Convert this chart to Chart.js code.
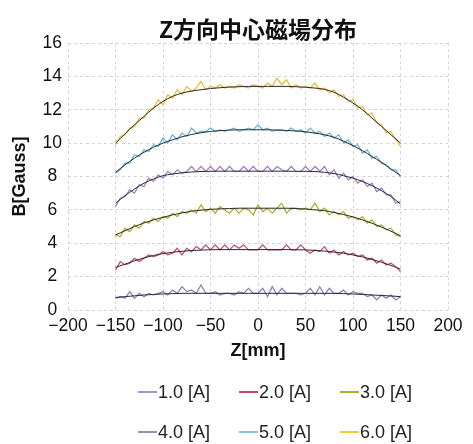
<!DOCTYPE html>
<html>
<head>
<meta charset="utf-8">
<script src="https://cdn.jsdelivr.net/npm/chart.js@4.4.1/dist/chart.umd.min.js"></script>
<style>
  body { margin: 0; background: #fff; overflow: hidden; }
  #wrap { position: relative; width: 473px; height: 444px; }
  #myChart { position: absolute; left: 0; top: 0; }
  #myLegend { position: absolute; left: 138px; top: 372px; width: 320px;
    font-family: "Liberation Sans", Arial, sans-serif; font-size: 18px; color: #222; }
  .row { display: flex; height: 40px; align-items: center; }
  .item { width: 101px; display: flex; align-items: center; }
  .swatch { width: 19px; height: 2px; margin-right: 1px; }
</style>
</head>
<body>
<div id="wrap">
  <canvas id="myChart" width="473" height="444"></canvas>
  <div id="myLegend"></div>
</div>
<script>
var seriesNames = ["1.0 [A]", "2.0 [A]", "3.0 [A]", "4.0 [A]", "5.0 [A]", "6.0 [A]"]
var lineColors = ["#8a7cc4", "#c8437c", "#aeae22", "#9d7cc8", "#62b2d8", "#f2b833"]
var legendColors = ["#a09cd0", "#c8437c", "#aeae22", "#9890b8", "#8cc4e0", "#f2cc40"]

// measured points every 5 mm
var zMeas = [-150, -145, -140, -135, -130, -125, -120, -115, -110, -105, -100, -95, -90, -85, -80, -75, -70, -65, -60, -55, -50, -45, -40, -35, -30, -25, -20, -15, -10, -5,
    0, 5, 10, 15, 20, 25, 30, 35, 40, 45, 50, 55, 60, 65, 70, 75, 80, 85, 90, 95, 100, 105, 110, 115, 120, 125, 130, 135, 140, 145, 150]

var b1 = [0.7, 0.8, 0.7, 1.1, 0.7, 1.0, 0.8, 1.0, 0.9, 1.0, 1.1, 0.9, 1.2, 1.0, 1.4, 1.1, 1.2, 1.0, 1.5, 1.0, 1.0, 1.1, 0.9, 1.0, 1.0, 0.9, 1.1, 1.0, 1.3, 1.0,
    1.0, 1.3, 0.8, 1.4, 0.9, 1.3, 1.0, 1.0, 1.0, 0.9, 1.0, 1.3, 0.9, 1.4, 0.9, 1.3, 1.0, 1.0, 1.2, 0.9, 1.1, 1.0, 1.0, 0.8, 0.9, 0.6, 0.9, 0.7, 0.9, 0.6, 0.8]
var b2 = [2.4, 2.9, 2.7, 2.8, 3.1, 2.9, 3.1, 3.3, 3.2, 3.3, 3.5, 3.3, 3.4, 3.7, 3.3, 3.7, 3.5, 3.8, 3.6, 3.9, 3.6, 3.9, 3.6, 3.9, 3.6, 3.9, 3.7, 3.9, 3.6, 3.6,
    3.6, 3.9, 3.6, 3.6, 3.6, 3.6, 3.9, 3.6, 3.6, 3.9, 3.6, 3.4, 3.6, 3.5, 3.8, 3.4, 3.6, 3.3, 3.5, 3.3, 3.4, 3.2, 3.3, 3.0, 3.1, 2.8, 3.0, 2.7, 2.8, 2.6, 2.3]
var b3 = [4.5, 4.4, 4.9, 4.7, 5.1, 4.9, 5.3, 5.2, 5.5, 5.3, 5.6, 5.5, 5.8, 5.6, 5.9, 5.8, 6.0, 5.8, 6.3, 5.9, 6.1, 5.8, 6.2, 6.0, 5.8, 6.1, 5.8, 6.1, 6.0, 5.7,
    6.3, 5.9, 6.1, 5.8, 6.1, 6.4, 5.8, 6.1, 6.1, 6.0, 6.1, 6.0, 6.4, 5.9, 6.1, 5.7, 5.9, 5.7, 5.9, 5.5, 5.6, 5.4, 5.6, 5.2, 5.4, 5.0, 5.1, 4.8, 4.9, 4.5, 4.4]
var b4 = [6.2, 6.7, 6.8, 7.2, 7.0, 7.5, 7.4, 7.9, 7.7, 8.1, 7.9, 8.3, 8.1, 8.4, 8.2, 8.3, 8.6, 8.3, 8.6, 8.3, 8.6, 8.3, 8.6, 8.3, 8.6, 8.3, 8.3, 8.6, 8.3, 8.6,
    8.3, 8.3, 8.6, 8.3, 8.6, 8.4, 8.3, 8.6, 8.3, 8.3, 8.6, 8.3, 8.6, 8.3, 8.6, 8.1, 8.4, 7.9, 8.2, 7.8, 8.0, 7.6, 7.8, 7.4, 7.6, 7.1, 7.3, 6.9, 6.9, 6.4, 6.5]
var b5 = [8.2, 8.4, 8.8, 8.8, 9.3, 9.2, 9.6, 9.5, 9.9, 9.8, 10.3, 10.0, 10.5, 10.2, 10.6, 10.4, 10.9, 10.6, 10.7, 10.7, 10.9, 10.7, 10.8, 10.7, 10.8, 10.9, 10.7, 10.8, 10.9, 10.8,
    11.1, 10.8, 10.9, 10.7, 10.8, 10.8, 10.7, 10.9, 10.7, 10.8, 10.6, 10.9, 10.6, 10.7, 10.4, 10.6, 10.3, 10.5, 10.0, 10.2, 9.8, 9.9, 9.4, 9.6, 9.1, 9.2, 8.8, 8.7, 8.4, 8.4, 8.0]
var b6 = [9.9, 10.4, 10.5, 10.9, 11.0, 11.5, 11.5, 12.0, 12.1, 12.6, 12.3, 12.9, 12.7, 13.2, 12.9, 13.4, 13.1, 13.3, 13.7, 13.2, 13.4, 13.3, 13.5, 13.3, 13.4, 13.3, 13.5, 13.4, 13.3, 13.5,
    13.4, 13.3, 13.6, 13.4, 13.9, 13.5, 13.8, 13.3, 13.5, 13.3, 13.4, 13.3, 13.6, 13.2, 13.3, 13.0, 13.2, 12.8, 12.9, 12.5, 12.6, 12.1, 12.2, 11.7, 11.8, 11.2, 11.1, 10.6, 10.7, 10.2, 9.8]

// fitted curves every 10 mm
var zFit = [-150, -140, -130, -120, -110, -100, -90, -80, -70, -60, -50, -40, -30, -20, -10,
    0, 10, 20, 30, 40, 50, 60, 70, 80, 90, 100, 110, 120, 130, 140, 150]
var fit1 = [0.75, 0.8, 0.85, 0.9, 0.93, 0.96, 0.98, 1.0, 1.0, 1.0, 1.0, 1.0, 1.0, 1.0, 1.0, 1.0, 1.0, 1.0, 1.0, 1.0, 1.0, 1.0, 1.0, 1.0, 0.98, 0.96, 0.93, 0.9, 0.87, 0.84, 0.8]
var fit2 = [2.55, 2.75, 2.95, 3.12, 3.27, 3.38, 3.46, 3.52, 3.56, 3.59, 3.61, 3.62, 3.62, 3.62, 3.62, 3.62, 3.62, 3.62, 3.62, 3.61, 3.6, 3.57, 3.53, 3.47, 3.4, 3.3, 3.18, 3.03, 2.86, 2.67, 2.45]
var fit3 = [4.5, 4.75, 5.0, 5.22, 5.4, 5.55, 5.7, 5.82, 5.92, 5.98, 6.03, 6.06, 6.08, 6.1, 6.1, 6.1, 6.1, 6.1, 6.1, 6.08, 6.05, 6.0, 5.95, 5.85, 5.72, 5.58, 5.4, 5.2, 4.97, 4.72, 4.45]
var fit4 = [6.4, 6.85, 7.25, 7.6, 7.85, 8.05, 8.15, 8.22, 8.27, 8.3, 8.31, 8.32, 8.32, 8.32, 8.32, 8.32, 8.32, 8.32, 8.32, 8.31, 8.31, 8.3, 8.25, 8.18, 8.05, 7.9, 7.7, 7.45, 7.15, 6.8, 6.35]
var fit5 = [8.25, 8.7, 9.1, 9.45, 9.75, 10.0, 10.2, 10.38, 10.52, 10.62, 10.7, 10.75, 10.78, 10.8, 10.8, 10.8, 10.8, 10.78, 10.76, 10.73, 10.68, 10.6, 10.5, 10.35, 10.12, 9.85, 9.55, 9.2, 8.85, 8.45, 8.05]
var fit6 = [10.0, 10.55, 11.1, 11.6, 12.1, 12.5, 12.8, 13.0, 13.12, 13.2, 13.27, 13.32, 13.36, 13.38, 13.4, 13.4, 13.4, 13.4, 13.4, 13.38, 13.35, 13.3, 13.22, 13.05, 12.75, 12.4, 12.0, 11.5, 11.0, 10.5, 10.0]

var measured = [b1, b2, b3, b4, b5, b6]
var fits = [fit1, fit2, fit3, fit4, fit5, fit6]

function pairs(xs, ys) {
    var out = []
    for (var i = 0; i < xs.length; i++) out.push({ x: xs[i], y: ys[i] })
    return out
}

var datasets = []
for (var i = 0; i < measured.length; i++) {
    datasets.push({
        label: seriesNames[i],
        data: pairs(zMeas, measured[i]),
        borderColor: lineColors[i],
        borderWidth: 1.2,
        pointRadius: 0,
        tension: 0,
        order: 2
    })
}
for (var i = 0; i < fits.length; i++) {
    datasets.push({
        label: "fit " + seriesNames[i],
        data: pairs(zFit, fits[i]),
        borderColor: "#2a2a2a",
        borderWidth: 1,
        pointRadius: 0,
        cubicInterpolationMode: "monotone",
        order: 1
    })
}

var tickFont = { family: "'Liberation Sans', Arial, sans-serif", size: 17.5 }
var titleFont = { family: "'Liberation Sans', Arial, sans-serif", size: 18, weight: "bold" }

new Chart("myChart", {
    type: "line",
    data: { datasets: datasets },
    options: {
        responsive: false,
        animation: false,
        layout: { padding: { left: 0, right: 25, top: 0, bottom: 78 } },
        plugins: {
            legend: { display: false },
            tooltip: { enabled: false },
            title: {
                display: true,
                fullSize: false,
                text: "Z方向中心磁場分布",
                color: "#111",
                font: { family: "'Noto Sans CJK JP', sans-serif", size: 23, weight: "bold" },
                padding: { top: 15, bottom: 0.4 }
            }
        },
        scales: {
            x: {
                type: "linear",
                min: -200,
                max: 200,
                afterFit: function (s) { s.height = 56 },
                ticks: {
                    stepSize: 50,
                    padding: 6,
                    color: "#111",
                    font: tickFont,
                    maxRotation: 0,
                    callback: function (v) { return v < 0 ? "\u2212" + Math.abs(v) : "" + v }
                },
                grid: { color: "#d6d6d6", drawTicks: false },
                border: { display: false, dash: [3, 3] },
                title: { display: true, text: "Z[mm]", color: "#111", font: titleFont, padding: { top: 0, bottom: 4 } }
            },
            y: {
                min: 0,
                max: 16,
                afterFit: function (s) { s.width = 68 },
                ticks: { stepSize: 2, padding: 6, crossAlign: "center", color: "#111", font: tickFont },
                grid: { color: "#d6d6d6", drawTicks: false },
                border: { display: false, dash: [3, 3] },
                title: { display: true, text: "B[Gauss]", color: "#111", font: titleFont, padding: { top: 9, bottom: 0 } }
            }
        }
    }
});

buildLegend()

function buildLegend() {
    var box = document.getElementById("myLegend")
    var html = ""
    for (var r = 0; r < 2; r++) {
        html += '<div class="row">'
        for (var c = 0; c < 3; c++) {
            var k = r * 3 + c
            html += `<div class="item"><span class="swatch" style="background:${legendColors[k]}"></span>${seriesNames[k]}</div>`
        }
        html += "</div>"
    }
    box.innerHTML = html
}
</script>
</body>
</html>
